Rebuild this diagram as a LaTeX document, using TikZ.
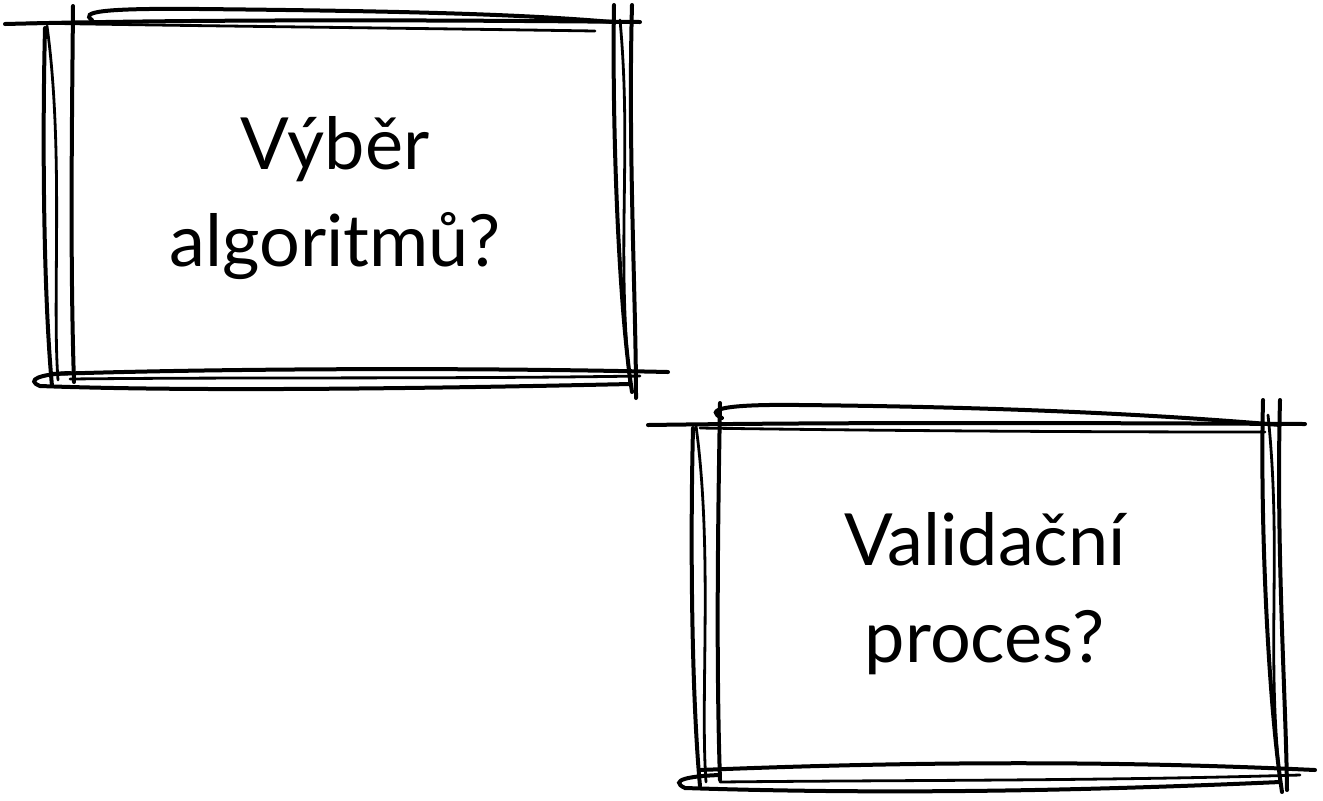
\documentclass[tikz,border=0pt]{standalone}
\usepackage{fontspec}
\setmainfont{Lato}
\usepackage{tikz}
\usetikzlibrary{arrows}

\tikzset{
  pen/.style={color={rgb, 255:red, 0; green, 0; blue, 0 }, draw opacity=1, line width=2pt, line cap=round},
  thinpen/.style={pen, line width=1.4pt},
  qtext/.style={inner sep=0pt, align=center, font=\fontsize{36}{48.5}\selectfont}
}

\begin{document}
\begin{tikzpicture}[x=0.5pt,y=0.5pt,yscale=-1,xscale=1]
\useasboundingbox (0,0) rectangle (1323,800);

%Straight Lines [id:top1a] 
\draw [pen]   (5,24) .. controls (200,19) and (450,20) .. (640,22) ;
%Curve Lines [id:top1b] 
\draw [pen]   (92,20) .. controls (80,12) and (100,8) .. (200,9) .. controls (400,11) and (520,14) .. (612,22) ;
%Curve Lines [id:top1c] 
\draw [thinpen]   (30,23) .. controls (200,26) and (400,28) .. (595,31) ;
%Curve Lines [id:left1a] 
\draw [pen]   (45,28) .. controls (42,150) and (44,300) .. (52,386) ;
%Curve Lines [id:left1b] 
\draw [thinpen]   (47,26) .. controls (64,150) and (52,300) .. (58,380) ;
%Curve Lines [id:left1c] 
\draw [pen]   (73,6) .. controls (72,120) and (70,260) .. (74,382) ;
%Curve Lines [id:bot1a] 
\draw [pen]   (52,374) .. controls (200,369) and (450,367) .. (668,372) ;
%Curve Lines [id:bot1b] 
\draw [pen]   (70,373) .. controls (40,374) and (25,380) .. (40,386) .. controls (200,392) and (450,388) .. (630,384) ;
%Curve Lines [id:bot1c] 
\draw [thinpen]   (70,379) .. controls (250,377) and (450,379) .. (640,376) ;
%Curve Lines [id:right1a] 
\draw [pen]   (614,5) .. controls (612,120) and (618,300) .. (632,392) ;
%Curve Lines [id:right1b] 
\draw [pen]   (632,5) .. controls (628,150) and (636,300) .. (636,398) ;
%Curve Lines [id:right1c] 
\draw [thinpen]   (620,20) .. controls (632,150) and (616,250) .. (630,385) ;

%Text Node
\node [qtext] (vyber) at (335,198.5) {Výběr\\algoritmů?};

%Straight Lines [id:top2a] 
\draw [pen]   (648,425) .. controls (850,422) and (1100,423) .. (1305,424) ;
%Curve Lines [id:top2b] 
\draw [pen]   (722,418) .. controls (705,410) and (720,404) .. (800,405) .. controls (1000,407) and (1150,414) .. (1280,425) ;
%Curve Lines [id:top2c] 
\draw [thinpen]   (700,428) .. controls (900,431) and (1100,432) .. (1265,432) ;
%Curve Lines [id:left2a] 
\draw [pen]   (693,428) .. controls (690,550) and (692,700) .. (700,786) ;
%Curve Lines [id:left2b] 
\draw [thinpen]   (696,426) .. controls (713,550) and (700,700) .. (706,782) ;
%Curve Lines [id:left2c] 
\draw [pen]   (720,403) .. controls (718,520) and (716,660) .. (720,780) ;
%Curve Lines [id:bot2a] 
\draw [pen]   (700,770) .. controls (900,762) and (1100,760) .. (1315,770) ;
%Curve Lines [id:bot2b] 
\draw [pen]   (720,775) .. controls (690,776) and (668,780) .. (685,788) .. controls (900,795) and (1100,790) .. (1280,782) ;
%Curve Lines [id:bot2c] 
\draw [thinpen]   (720,782) .. controls (900,780) and (1100,781) .. (1300,775) ;
%Curve Lines [id:right2a] 
\draw [pen]   (1263,400) .. controls (1260,520) and (1268,700) .. (1282,792) ;
%Curve Lines [id:right2b] 
\draw [pen]   (1280,400) .. controls (1276,550) and (1286,700) .. (1287,790) ;
%Curve Lines [id:right2c] 
\draw [thinpen]   (1268,415) .. controls (1282,550) and (1266,650) .. (1280,780) ;

%Text Node
\node [qtext] (validace) at (985,594) {Validační\\proces?};
\end{tikzpicture}
\end{document}
